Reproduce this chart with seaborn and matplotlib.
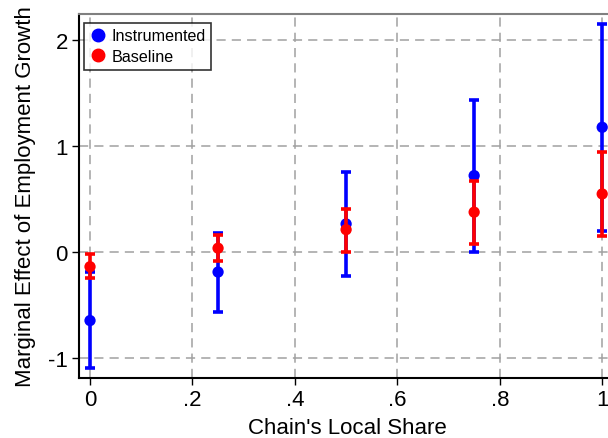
import matplotlib
matplotlib.use("Agg")
import matplotlib.pyplot as plt
import seaborn as sns
import pandas as pd
import numpy as np

x_share = [0.0, 0.25, 0.5, 0.75, 1.0]
instr_est = [-0.648, -0.19, 0.264, 0.72, 1.176]
instr_lo = [-1.10, -0.57, -0.226, 0.0, 0.20]
instr_hi = [-0.19, 0.18, 0.75, 1.434, 2.148]
base_est = [-0.14, 0.035, 0.21, 0.375, 0.547]
base_lo = [-0.25, -0.09, 0.0, 0.075, 0.148]
base_hi = [-0.02, 0.16, 0.405, 0.673, 0.946]
xticks = [0, 0.2, 0.4, 0.6, 0.8, 1.0]
xtick_labels = ["0", ".2", ".4", ".6", ".8", "1"]
yticks = [-1, 0, 1, 2]
yticklabels = ["-1", "0", "1", "2"]

sns.set_theme(style="white")
plt.rcParams['font.family'] = ['Liberation Sans', 'DejaVu Sans']
plt.rcParams.update({'text.color': 'black', 'axes.labelcolor': 'black',
                     'xtick.color': 'black', 'ytick.color': 'black'})

fig = plt.figure(figsize=(6.08, 4.39), dpi=100)
ax = fig.add_axes([79/608, 60/439, 536/608, 364/439])

series = [
    ("Instrumented", "#0000ff", instr_est, instr_lo, instr_hi),
    ("Baseline", "#ff0000", base_est, base_lo, base_hi),
]
z = 3
for name, col, est, lo, hi in series:
    est_a = np.array(est); lo_a = np.array(lo); hi_a = np.array(hi)
    ax.errorbar(x_share, est_a, yerr=[est_a - lo_a, hi_a - est_a], fmt='none',
                ecolor=col, elinewidth=2.6, capsize=3.6, capthick=2.6, zorder=z)
    df = pd.DataFrame({"x": x_share, "y": est, "s": name})
    sns.scatterplot(data=df, x="x", y="y", color=col, s=66, edgecolor='none',
                    ax=ax, zorder=z + 1, label=name, legend=False)
    z += 2

ax.set_xlim(-0.0215, 1.025)
ax.set_ylim(-1.19, 2.245)
ax.set_xticks(xticks)
ax.set_xticklabels(xtick_labels)
ax.set_yticks(yticks)
ax.set_yticklabels(yticklabels)
ax.grid(True, color='#a0a0a0', linestyle=(0, (6, 4)), linewidth=1.1)
ax.set_axisbelow(True)
ax.tick_params(axis='both', direction='out', length=5, width=1, color='black',
               labelsize=16, bottom=True, left=True, pad=3)
ax.set_xlabel("Chain's Local Share", fontsize=16, labelpad=5)
ax.set_ylabel("Marginal Effect of Employment Growth", fontsize=16, labelpad=9)
for sp in ['left', 'bottom']:
    ax.spines[sp].set_color('black')
    ax.spines[sp].set_linewidth(1.5)
ax.spines['top'].set_color('#808080')
ax.spines['top'].set_linewidth(1.5)
ax.spines['right'].set_visible(False)

handles = [plt.Line2D([], [], marker='o', linestyle='none', color=c, markersize=9)
           for c in ["#0000ff", "#ff0000"]]
leg = ax.legend(handles, ["Instrumented", "Baseline"], loc='upper left',
                bbox_to_anchor=(0.003, 0.985), fontsize=11.6, frameon=True,
                fancybox=False, edgecolor='black', handletextpad=0.35,
                handlelength=1.0, borderpad=0.35, labelspacing=0.35,
                borderaxespad=0.2)
leg.get_frame().set_linewidth(1.2)

fig.savefig("out.png", dpi=100)
